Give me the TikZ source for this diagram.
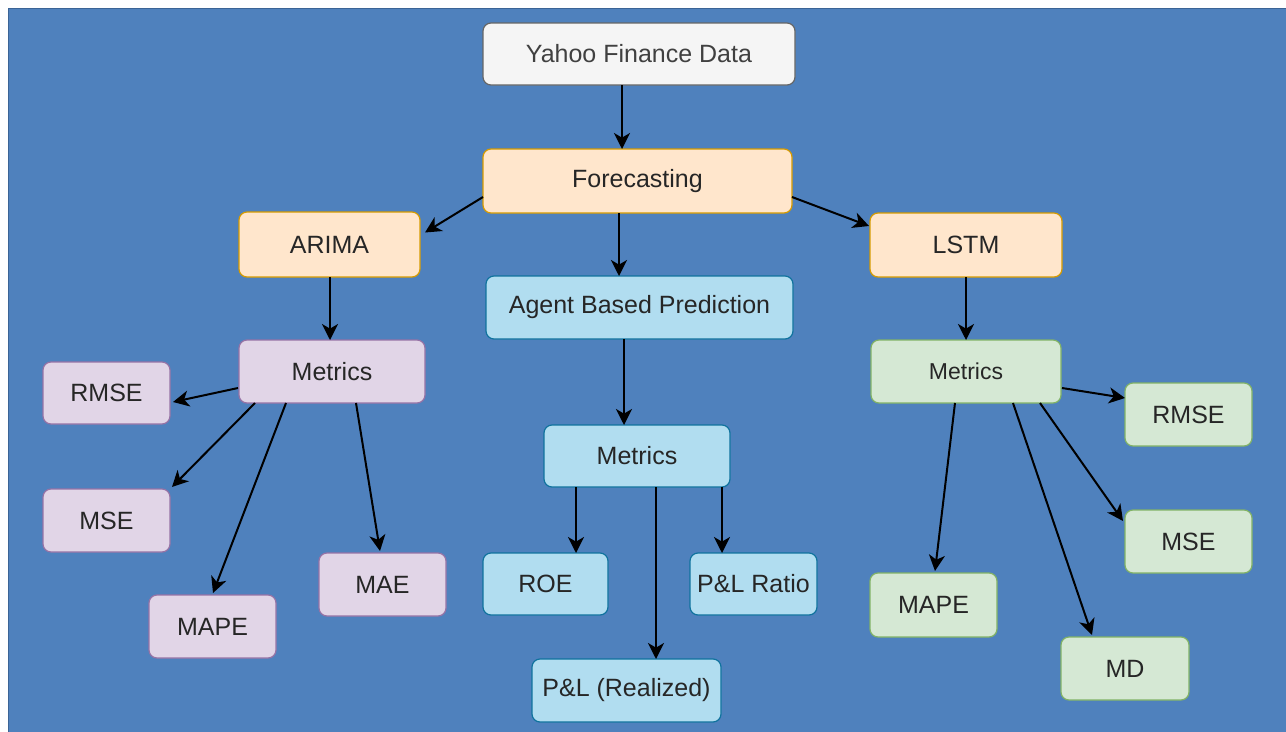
\documentclass[tikz,border=0pt]{standalone}
\usepackage{fontspec}
\setmainfont{Liberation Sans}
\usetikzlibrary{arrows.meta,calc}
\definecolor{bg}{HTML}{4F81BD}
\definecolor{bgdark}{HTML}{3B6496}
\definecolor{txt}{HTML}{262626}
\definecolor{grayfill}{HTML}{F5F5F5}\definecolor{graydraw}{HTML}{666666}
\definecolor{orfill}{HTML}{FFE6CC}\definecolor{ordraw}{HTML}{D79B00}
\definecolor{pufill}{HTML}{E1D5E7}\definecolor{pudraw}{HTML}{9673A6}
\definecolor{blfill}{HTML}{B1DDF0}\definecolor{bldraw}{HTML}{10739E}
\definecolor{grfill}{HTML}{D5E8D4}\definecolor{grdraw}{HTML}{82B366}
\tikzset{
  box/.style 2 args={draw, rounded corners=6pt, line width=0.9pt, inner sep=0pt, outer sep=0pt,
    minimum width=#1*0.75pt, minimum height=#2*0.75pt, align=center, text=txt,
    font=\fontsize{18.75pt}{22pt}\selectfont},
  graybox/.style={fill=grayfill, draw=graydraw, text=black!75},
  orbox/.style={fill=orfill, draw=ordraw},
  pubox/.style={fill=pufill, draw=pudraw},
  blbox/.style={fill=blfill, draw=bldraw},
  grbox/.style={fill=grfill, draw=grdraw},
  arr/.style={draw=black, line width=1.5pt, -{Stealth[length=12pt, width=12pt, inset=3.5pt]}}
}
\begin{document}
\begin{tikzpicture}[x=0.75pt,y=-0.75pt]
\useasboundingbox (0,0) rectangle (1286,732);
\fill[white] (0,0) rectangle (1286,732);
\fill[bg] (8,8) rectangle (1286,732);
\draw[bgdark, line width=1.4pt] (8.5,732) -- (8.5,8.5) -- (1286,8.5);

% top
\node[box={312}{62}, graybox] (yahoo) at (639,54) {Yahoo Finance Data};
\node[box={309}{64}, orbox] (fore) at (637.5,181) {Forecasting};
\node[box={181}{65}, orbox] (arima) at (329.5,244.5) {ARIMA};
\node[box={192}{64}, orbox] (lstm) at (966,245) {LSTM};
\node[box={307}{63}, blbox] (agent) at (639.5,307.5) {Agent Based Prediction};

% ARIMA branch
\node[box={186}{63}, pubox] (metA) at (332,371.5) {Metrics};
\node[box={127}{62}, pubox] (rmseA) at (106.5,393) {RMSE};
\node[box={127}{63}, pubox] (mseA) at (106.5,520.5) {MSE};
\node[box={127}{63}, pubox] (mapeA) at (212.5,626.5) {MAPE};
\node[box={127}{63}, pubox] (maeA) at (382.5,584.5) {MAE};

% Agent branch
\node[box={186}{62}, blbox] (metB) at (637,456) {Metrics};
\node[box={125}{62}, blbox] (roe) at (545.5,584) {ROE};
\node[box={127}{62}, blbox] (plr) at (753.5,584) {P\&L Ratio};
\node[box={189}{63}, blbox] (plreal) at (626.5,690.5) {P\&L (Realized)};

% LSTM branch
\node[box={190}{63}, grbox, font=\fontsize{17.25pt}{20pt}\selectfont] (metL) at (966,371.5) {Metrics};
\node[box={127}{63}, grbox] (rmseL) at (1188.5,414.5) {RMSE};
\node[box={127}{63}, grbox] (mseL) at (1188.5,541.5) {MSE};
\node[box={127}{64}, grbox] (mapeL) at (933.5,605) {MAPE};
\node[box={128}{63}, grbox] (md) at (1125,668.5) {MD};

% connectors
\draw[arr] ($(yahoo.south)+(-17,0)$) -- ($(fore.north)+(-15.5,0)$);
\draw[arr] ($(fore.west)+(0,16)$) -- ($(arima.east)+(5,-12)$);
\draw[arr] ($(fore.east)+(0,16)$) -- ($(lstm.west)+(-1,-19)$);
\draw[arr] ($(fore.south)+(-18.5,0)$) -- ($(agent.north)+(-20.5,0)$);
\draw[arr] ($(agent.south)+(-15.5,0)$) -- ($(metB.north)+(-13,0)$);
\draw[arr] ($(arima.south)+(0.5,0)$) -- ($(metA.north)+(-2,0)$);
\draw[arr] (lstm.south) -- (metL.north);

\draw[arr] ($(metA.west)+(-1,16.5)$) -- ($(rmseA.east)+(3,9)$);
\draw[arr] ($(metA.south west)+(16,0)$) -- ($(mseA.north east)+(2,-2)$);
\draw[arr] ($(metA.south west)+(47,0)$) -- ($(mapeA.north)+(0.5,-2)$);
\draw[arr] ($(metA.south west)+(117,0)$) -- ($(maeA.north)+(-2.5,-2)$);

\draw[arr] ($(metB.south west)+(32,0)$) -- ($(roe.north)+(30.5,0)$);
\draw[arr] ($(metB.south west)+(112,0)$) -- ($(plreal.north)+(29.5,0)$);
\draw[arr] ($(metB.south east)+(-8,0)$) -- ($(plr.north)+(-31.5,0)$);

\draw[arr] ($(metL.east)+(1,16.5)$) -- ($(rmseL.west)+(0,-16.5)$);
\draw[arr] ($(metL.south west)+(84,0)$) -- ($(mapeL.north)+(1.5,-2)$);
\draw[arr] ($(metL.south west)+(142,0)$) -- ($(md.north)+(-33,-2)$);
\draw[arr] ($(metL.south west)+(169,0)$) -- ($(mseL.west)+(-2,-20.5)$);
\end{tikzpicture}
\end{document}
